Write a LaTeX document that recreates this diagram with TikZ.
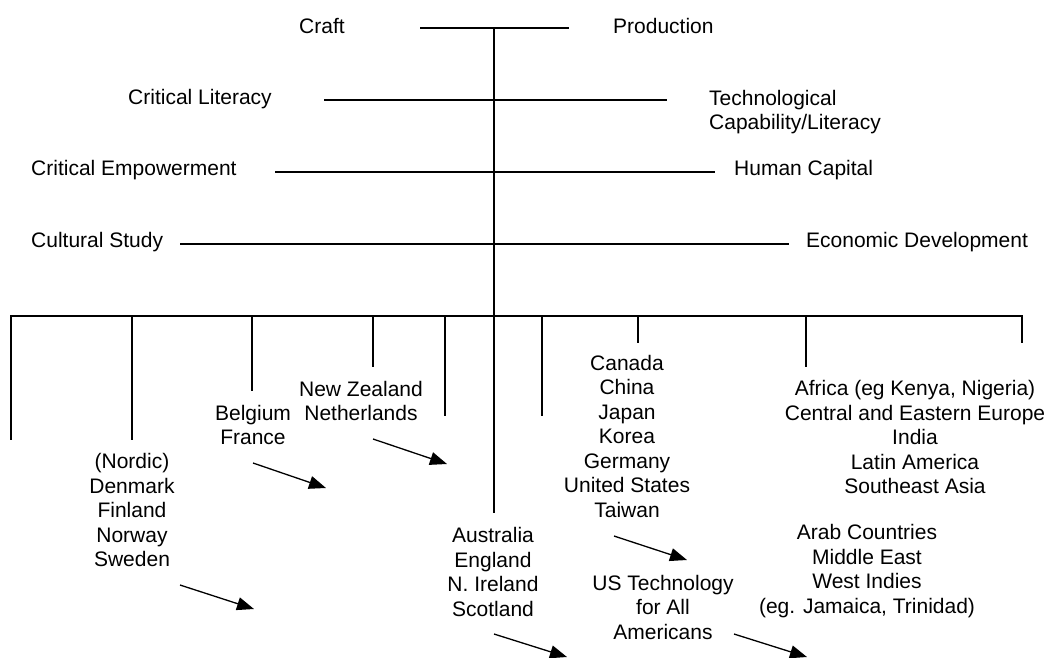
\documentclass[tikz,border=0pt]{standalone}
\usepackage{fontspec}
\setmainfont{Liberation Sans}
\usetikzlibrary{arrows.meta}
\tikzset{
  lbl/.style={inner sep=0pt, font=\fontsize{21}{24.5}\selectfont, align=center},
  tree/.style={line width=1.4pt, line cap=rect},
  arr/.style={line width=1.3pt, -{Triangle[length=17pt,width=13pt]}},
}
\begin{document}
\begin{tikzpicture}[x=1pt,y=-1pt]
\useasboundingbox (0,0) rectangle (1052,657);
\fill[white] (0,0) rectangle (1052,657);
% top labels
\node[lbl,anchor=west] (craft) at (299,26) {Craft};
\node[lbl,anchor=west] (prod) at (613,26) {Production};
\node[lbl,anchor=west] (clit) at (128,99) {Critical Literacy};
\node[lbl,anchor=west,align=left] (tech) at (709,112) {Technological\\Capability/Literacy};
\node[lbl,anchor=west] (cemp) at (31,170) {Critical Empowerment};
\node[lbl,anchor=west] (hcap) at (734,170) {Human Capital};
\node[lbl,anchor=west] (cult) at (31,242) {Cultural Study};
\node[lbl,anchor=west] (econ) at (806,242) {Economic Development};
% axis coordinates
\coordinate (top) at (494,28);
\coordinate (bot) at (494,512);
\coordinate (a1) at (421,28);  \coordinate (a2) at (568,28);
\coordinate (b1) at (325,100); \coordinate (b2) at (666,100);
\coordinate (c1) at (276,172); \coordinate (c2) at (714,172);
\coordinate (d1) at (181,244); \coordinate (d2) at (788,244);
\coordinate (e1) at (11,316);  \coordinate (e2) at (1022,316);
\draw[tree] (top) -- (bot);
\draw[tree] (a1) -- (a2);
\draw[tree] (b1) -- (b2);
\draw[tree] (c1) -- (c2);
\draw[tree] (d1) -- (d2);
\draw[tree] (e1) -- (e2);
% drops
\coordinate (p1) at (11,439);
\coordinate (p2) at (132,439);
\coordinate (p3) at (252,390);
\coordinate (p4) at (373,366);
\coordinate (p5) at (445,415);
\coordinate (p6) at (542,415);
\coordinate (p7) at (638,342);
\coordinate (p8) at (806,366);
\coordinate (p9) at (1022,342);
\foreach \p in {p1,p2,p3,p4,p5,p6,p7,p8,p9}{
  \draw[tree] (\p |- e1) -- (\p);
}
% country groups
\node[lbl] (nordic) at (132,510) {(Nordic)\\Denmark\\Finland\\Norway\\Sweden};
\node[lbl] (belg) at (253,425) {Belgium\\France};
\node[lbl] (nz) at (361,401) {New Zealand\\Netherlands};
\node[lbl] (aus) at (493,572) {Australia\\England\\N. Ireland\\Scotland};
\node[lbl] (can) at (627,436) {Canada\\China\\Japan\\Korea\\Germany\\United States\\Taiwan};
\node[lbl] (ust) at (663,607) {US Technology\\for All\\Americans};
\node[lbl] (afr) at (915,437) {Africa (eg Kenya, Nigeria)\\Central and Eastern Europe\\India\\Latin America\\Southeast Asia};
\node[lbl] (arab) at (867,571) {Arab Countries\\Middle East\\West Indies\\(eg. Jamaica, Trinidad)};
% arrows
\coordinate (n1) at (180,585); \coordinate (n2) at (254,609);
\coordinate (f1) at (253,463); \coordinate (f2) at (326,488);
\coordinate (z1) at (373,439); \coordinate (z2) at (447,464);
\coordinate (au1) at (494,634); \coordinate (au2) at (567,657);
\coordinate (tw1) at (614,536); \coordinate (tw2) at (687,560);
\coordinate (am1) at (734,634); \coordinate (am2) at (807,657);
\draw[arr] (n1) -- (n2);
\draw[arr] (f1) -- (f2);
\draw[arr] (z1) -- (z2);
\draw[arr] (au1) -- (au2);
\draw[arr] (tw1) -- (tw2);
\draw[arr] (am1) -- (am2);
\end{tikzpicture}
\end{document}
